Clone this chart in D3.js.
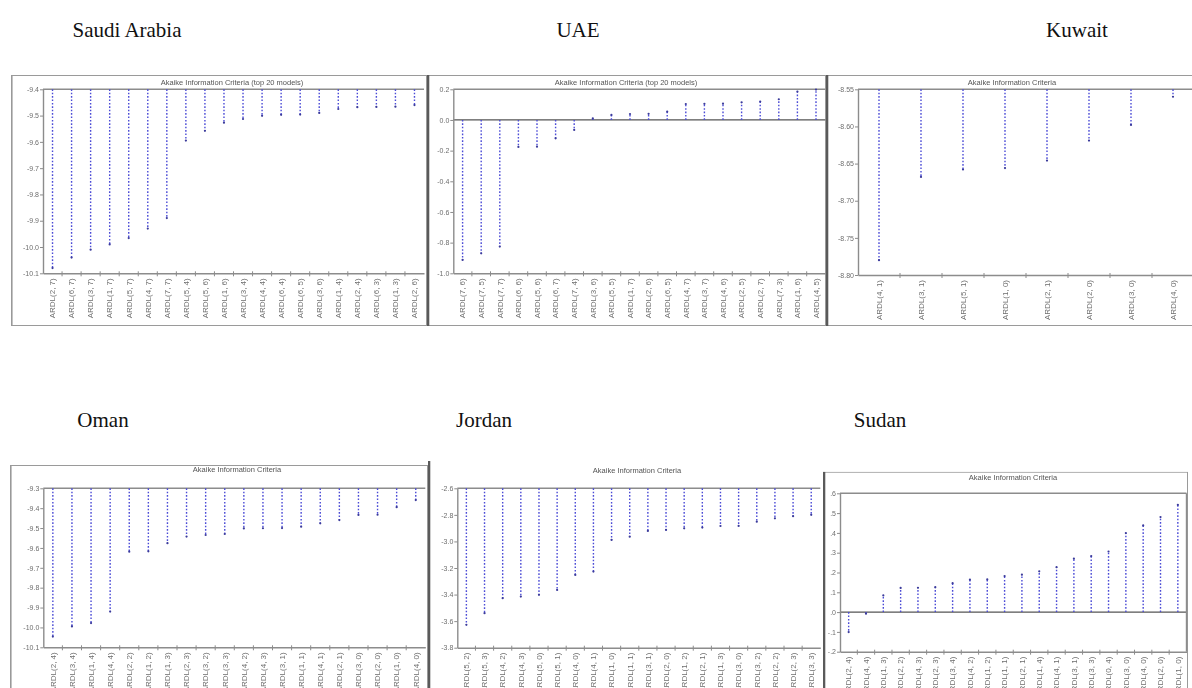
<!DOCTYPE html>
<html>
<head>
<meta charset="utf-8">
<script src="https://cdn.jsdelivr.net/npm/d3@7"></script>
<style>
  body { margin: 0; background: #fff; }
  svg { display: block; }
</style>
</head>
<body>
<svg id="chart" width="1192" height="688"></svg>
<script>
// ---- Model selection results (AIC of the best ARDL specifications) ----

// Saudi Arabia
const saudiModels = ["ARDL(2, 7)","ARDL(6, 7)","ARDL(3, 7)","ARDL(1, 7)","ARDL(5, 7)","ARDL(4, 7)","ARDL(7, 7)","ARDL(5, 4)","ARDL(5, 6)","ARDL(1, 6)","ARDL(3, 4)","ARDL(4, 4)","ARDL(6, 4)","ARDL(6, 5)","ARDL(3, 6)","ARDL(1, 4)","ARDL(2, 4)","ARDL(6, 3)","ARDL(1, 3)","ARDL(2, 6)"];
const saudiAic = [-10.08,-10.04,-10.01,-9.99,-9.966,-9.93,-9.89,-9.595,-9.558,-9.527,-9.513,-9.501,-9.497,-9.496,-9.49,-9.475,-9.468,-9.467,-9.466,-9.46];
const saudiTicks = [-10.1,-10.0,-9.9,-9.8,-9.7,-9.6,-9.5,-9.4];
const saudiTickLabels = ["-10.1","-10.0","-9.9","-9.8","-9.7","-9.6","-9.5","-9.4"];

// UAE
const uaeModels = ["ARDL(7, 6)","ARDL(7, 5)","ARDL(7, 7)","ARDL(6, 6)","ARDL(5, 6)","ARDL(6, 7)","ARDL(7, 4)","ARDL(3, 6)","ARDL(5, 5)","ARDL(1, 7)","ARDL(2, 6)","ARDL(6, 5)","ARDL(4, 7)","ARDL(3, 7)","ARDL(4, 6)","ARDL(2, 5)","ARDL(2, 7)","ARDL(7, 3)","ARDL(1, 6)","ARDL(4, 5)"];
const uaeAic = [-0.913,-0.870,-0.826,-0.176,-0.174,-0.12,-0.065,0.01,0.033,0.039,0.040,0.054,0.104,0.105,0.106,0.115,0.12,0.135,0.185,0.198];
const uaeTicks = [-1.0,-0.8,-0.6,-0.4,-0.2,0.0,0.2];
const uaeTickLabels = ["-1.0","-0.8","-0.6","-0.4","-0.2","0.0","0.2"];

// Kuwait
const kuwaitModels = ["ARDL(4, 1)","ARDL(3, 1)","ARDL(5, 1)","ARDL(1, 0)","ARDL(2, 1)","ARDL(2, 0)","ARDL(3, 0)","ARDL(4, 0)"];
const kuwaitAic = [-8.780,-8.668,-8.658,-8.656,-8.646,-8.619,-8.598,-8.560];
const kuwaitTicks = [-8.80,-8.75,-8.70,-8.65,-8.60,-8.55];
const kuwaitTickLabels = ["-8.80","-8.75","-8.70","-8.65","-8.60","-8.55"];

// Oman
const omanModels = ["ARDL(2, 4)","ARDL(3, 4)","ARDL(1, 4)","ARDL(4, 4)","ARDL(2, 2)","ARDL(1, 2)","ARDL(1, 3)","ARDL(2, 3)","ARDL(3, 2)","ARDL(3, 3)","ARDL(4, 2)","ARDL(4, 3)","ARDL(3, 1)","ARDL(1, 1)","ARDL(4, 1)","ARDL(2, 1)","ARDL(3, 0)","ARDL(2, 0)","ARDL(1, 0)","ARDL(4, 0)"];
const omanAic = [-10.046,-9.995,-9.978,-9.92,-9.619,-9.617,-9.576,-9.543,-9.535,-9.53,-9.502,-9.501,-9.50,-9.493,-9.476,-9.46,-9.434,-9.433,-9.395,-9.359];
const omanTicks = [-10.1,-10.0,-9.9,-9.8,-9.7,-9.6,-9.5,-9.4,-9.3];
const omanTickLabels = ["-10.1","-10.0","-9.9","-9.8","-9.7","-9.6","-9.5","-9.4","-9.3"];

// Jordan
const jordanModels = ["ARDL(5, 2)","ARDL(5, 3)","ARDL(4, 2)","ARDL(4, 3)","ARDL(5, 0)","ARDL(5, 1)","ARDL(4, 0)","ARDL(4, 1)","ARDL(1, 0)","ARDL(1, 1)","ARDL(3, 1)","ARDL(2, 0)","ARDL(1, 2)","ARDL(2, 1)","ARDL(1, 3)","ARDL(3, 0)","ARDL(3, 2)","ARDL(2, 2)","ARDL(2, 3)","ARDL(3, 3)"];
const jordanAic = [-3.628,-3.54,-3.427,-3.415,-3.402,-3.365,-3.252,-3.227,-2.989,-2.964,-2.921,-2.913,-2.901,-2.896,-2.884,-2.883,-2.851,-2.826,-2.81,-2.80];
const jordanTicks = [-3.8,-3.6,-3.4,-3.2,-3.0,-2.8,-2.6];
const jordanTickLabels = ["-3.8","-3.6","-3.4","-3.2","-3.0","-2.8","-2.6"];

// Sudan
const sudanModels = ["ARDL(2, 4)","ARDL(4, 4)","ARDL(1, 3)","ARDL(2, 2)","ARDL(4, 3)","ARDL(2, 3)","ARDL(3, 4)","ARDL(4, 2)","ARDL(1, 2)","ARDL(1, 1)","ARDL(2, 1)","ARDL(1, 4)","ARDL(4, 1)","ARDL(3, 1)","ARDL(3, 3)","ARDL(0, 4)","ARDL(3, 0)","ARDL(4, 0)","ARDL(2, 0)","ARDL(1, 0)"];
const sudanAic = [-0.101,-0.008,0.084,0.122,0.123,0.126,0.146,0.164,0.165,0.182,0.189,0.206,0.227,0.27,0.283,0.306,0.399,0.438,0.48,0.542];
const sudanTicks = [-0.2,-0.1,0.0,0.1,0.2,0.3,0.4,0.5,0.6];
const sudanTickLabels = ["-.2","-.1",".0",".1",".2",".3",".4",".5",".6"];

const titleTop = "Akaike Information Criteria (top 20 models)";
const titlePlain = "Akaike Information Criteria";

// ---- Panel layout ----
const panels = [
  { country: "Saudi Arabia", cx: 127, cy: 37, title: titleTop, tx: 232, ty: 85,
    frame: [11, 75, 427, 326], plot: [43, 89.3, 424, 273.3], domain: [-10.1, -9.4],
    models: saudiModels, values: saudiAic, ticks: saudiTicks, tickLabels: saudiTickLabels },
  { country: "UAE", cx: 578, cy: 37, title: titleTop, tx: 626, ty: 85,
    frame: [427, 75, 826, 326], plot: [453.3, 89.3, 825.3, 273.3], domain: [-1.0, 0.2],
    models: uaeModels, values: uaeAic, ticks: uaeTicks, tickLabels: uaeTickLabels },
  { country: "Kuwait", cx: 1077, cy: 37, title: titlePlain, tx: 1012, ty: 85,
    frame: [826, 75, 1194, 326], plot: [858, 89.3, 1194, 275], domain: [-8.80, -8.55],
    models: kuwaitModels, values: kuwaitAic, ticks: kuwaitTicks, tickLabels: kuwaitTickLabels },
  { country: "Oman", cx: 103, cy: 427, title: titlePlain, tx: 237, ty: 472,
    frame: [10, 465, 428, 700], plot: [43.3, 488.3, 425.3, 647.3], domain: [-10.1, -9.3],
    models: omanModels, values: omanAic, ticks: omanTicks, tickLabels: omanTickLabels },
  { country: "Jordan", cx: 484, cy: 427, title: titlePlain, tx: 637, ty: 473,
    frame: [428, 461, 823, 700], plot: [457.3, 488.3, 820.3, 647.7], domain: [-3.8, -2.6],
    models: jordanModels, values: jordanAic, ticks: jordanTicks, tickLabels: jordanTickLabels, noTop: true },
  { country: "Sudan", cx: 880, cy: 427, title: titlePlain, tx: 1013, ty: 480,
    frame: [823, 471.7, 1188, 700], plot: [840, 493.3, 1186.5, 651.7], domain: [-0.2, 0.6],
    models: sudanModels, values: sudanAic, ticks: sudanTicks, tickLabels: sudanTickLabels }
];

const svg = d3.select("#chart");
const defs = svg.append("defs");
defs.append("filter").attr("id", "soft")
  .attr("x", "-5%").attr("y", "-5%").attr("width", "110%").attr("height", "110%")
  .append("feGaussianBlur").attr("stdDeviation", 0.45);

const axisGrey = "#8c8c8c";
const textGrey = "#6e6e6e";
const barBlue = "#4b4bd6";

panels.forEach((p, i) => {
  const [fx0, fy0, fx1, fy1] = p.frame;
  const clipId = "clip" + i;
  defs.append("clipPath").attr("id", clipId)
    .append("rect").attr("x", fx0).attr("y", fy0).attr("width", fx1 - fx0).attr("height", fy1 - fy0);

  const outer = svg.append("g").attr("clip-path", `url(#${clipId})`);
  const g = outer.append("g").attr("filter", "url(#soft)");

  // Panel frame
  g.append("rect")
    .attr("x", fx0 + 0.5).attr("y", fy0 + 0.5)
    .attr("width", fx1 - fx0 - 1).attr("height", fy1 - fy0 - 1)
    .attr("fill", "#fff")
    .attr("stroke", p.noTop ? "none" : "#9a9a9a").attr("stroke-width", 1);
  g.append("line")
    .attr("x1", fx0 + 1).attr("x2", fx0 + 1).attr("y1", fy0).attr("y2", fy1)
    .attr("stroke", i % 3 === 0 ? "#9a9a9a" : "#5a5a5a")
    .attr("stroke-width", i % 3 === 0 ? 1.2 : 2.6);

  // Chart title
  g.append("text")
    .attr("x", p.tx).attr("y", p.ty)
    .attr("text-anchor", "middle")
    .attr("font-family", "'Liberation Sans', Arial, sans-serif")
    .attr("font-size", 7.5)
    .attr("fill", "#555")
    .text(p.title);

  const [px0, py0, px1, py1] = p.plot;
  const x = d3.scaleBand().domain(p.models).range([px0, px1]).paddingInner(0).paddingOuter(0);
  const y = d3.scaleLinear().domain(p.domain).range([py1, py0]);
  const base = y(Math.max(p.domain[0], Math.min(p.domain[1], 0)));

  // Plot frame: top edge, left and bottom axes
  g.append("line").attr("x1", px0).attr("x2", px1).attr("y1", py0).attr("y2", py0)
    .attr("stroke", axisGrey).attr("stroke-width", 1.4);
  if (p.domain[0] < 0 && p.domain[1] > 0) {
    g.append("line").attr("x1", px0).attr("x2", px1).attr("y1", base).attr("y2", base)
      .attr("stroke", "#555").attr("stroke-width", 1.2);
  }
  if (i === 5) {
    g.append("line").attr("x1", px1).attr("x2", px1).attr("y1", py0).attr("y2", py1)
      .attr("stroke", axisGrey).attr("stroke-width", 1.4);
  }

  const yAxis = d3.axisLeft(y)
    .tickValues(p.ticks)
    .tickFormat((d, k) => p.tickLabels[k])
    .tickSize(3).tickSizeOuter(0);
  const ya = g.append("g").attr("transform", `translate(${px0},0)`).call(yAxis);
  ya.select(".domain").attr("stroke", axisGrey).attr("stroke-width", 1.4);
  ya.selectAll(".tick line").attr("stroke", axisGrey);
  ya.selectAll(".tick text")
    .attr("font-family", "'Liberation Sans', Arial, sans-serif")
    .attr("font-size", 7).attr("fill", textGrey).attr("x", -4);

  const xAxis = d3.axisBottom(x).tickSize(0).tickSizeOuter(0).tickFormat("");
  const xa = g.append("g").attr("transform", `translate(0,${py1})`).call(xAxis);
  xa.select(".domain").attr("stroke", axisGrey).attr("stroke-width", 1.4);

  // Tick marks between categories
  g.selectAll(".sep").data(p.models.slice(1)).join("line")
    .attr("x1", d => x(d)).attr("x2", d => x(d))
    .attr("y1", py1 - 2).attr("y2", py1 + 3)
    .attr("stroke", axisGrey).attr("stroke-width", 1);

  // Rotated model labels
  g.selectAll(".lab").data(p.models).join("text")
    .attr("transform", d => `translate(${x(d) + x.bandwidth() / 2},${py1 + 5}) rotate(-90)`)
    .attr("text-anchor", "end")
    .attr("dy", "0.35em")
    .attr("font-family", "'Liberation Sans', Arial, sans-serif")
    .attr("font-size", 8)
    .attr("fill", textGrey)
    .text(d => d);

  // Dotted spikes from the base line to each AIC value
  const pts = p.models.map((m, k) => ({ m, v: p.values[k] }));
  g.selectAll(".spike").data(pts).join("line")
    .attr("x1", d => x(d.m) + x.bandwidth() / 2)
    .attr("x2", d => x(d.m) + x.bandwidth() / 2)
    .attr("y1", base)
    .attr("y2", d => y(d.v))
    .attr("stroke", barBlue)
    .attr("stroke-width", 1.4)
    .attr("stroke-dasharray", "1.6,1.8");
  g.selectAll(".tip").data(pts).join("circle")
    .attr("cx", d => x(d.m) + x.bandwidth() / 2)
    .attr("cy", d => y(d.v))
    .attr("r", 1.1)
    .attr("fill", "#3a3a9a");
});

// Country headings above each panel
svg.selectAll(".country").data(panels).join("text")
  .attr("class", "country")
  .attr("x", d => d.cx).attr("y", d => d.cy)
  .attr("text-anchor", "middle")
  .attr("font-family", "'Liberation Serif', 'Times New Roman', serif")
  .attr("font-size", 21)
  .attr("fill", "#111")
  .text(d => d.country);
</script>
</body>
</html>
